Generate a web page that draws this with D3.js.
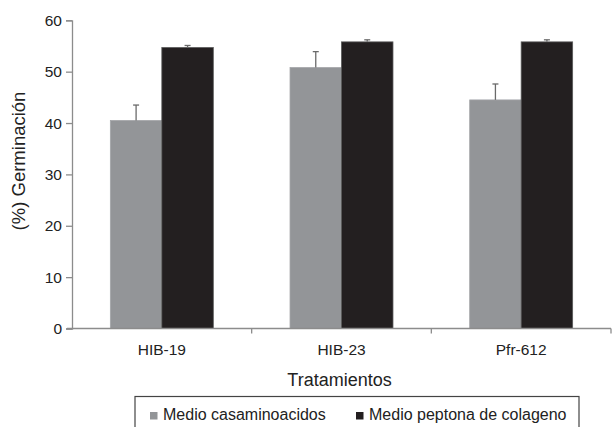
<!DOCTYPE html>
<html><head><meta charset="utf-8">
<script src="https://cdn.jsdelivr.net/npm/d3@7"></script>
<style>body{margin:0;background:#fff}svg{display:block;font-family:"Liberation Sans",Arial,sans-serif}</style>
</head><body>
<svg id="c" width="612" height="427"></svg>
<script>
const categories = ["HIB-19", "HIB-23", "Pfr-612"];
const seriesNames = ["Medio casaminoacidos", "Medio peptona de colageno"];
const casaminoacidos = [40.5, 50.8, 44.5];
const casaminoacidosErr = [3.0, 3.1, 3.1];
const peptona = [54.7, 55.8, 55.8];
const peptonaErr = [0.4, 0.4, 0.4];
const yTicks = [0, 10, 20, 30, 40, 50, 60];
const colors = ["#939598", "#231f20"];

const values = [casaminoacidos, peptona];
const errs = [casaminoacidosErr, peptonaErr];

const svg = d3.select("#c");
const mLeft = 72, mRight = 611, mTop = 20.3, mBottom = 328.5;

const x0 = d3.scaleBand().domain(categories).range([mLeft, mRight]).padding(0);
const x1 = d3.scaleBand().domain(seriesNames).range([0, x0.bandwidth()]).paddingInner(0).paddingOuter(0.745);
const y = d3.scaleLinear().domain([0, 60]).range([mBottom, mTop]);

const axisColor = "#8c8c8c";

// bars
seriesNames.forEach((s, si) => {
  const g = svg.append("g");
  g.selectAll("rect").data(categories).join("rect")
    .attr("x", c => x0(c) + x1(s))
    .attr("y", (c, i) => y(values[si][i]))
    .attr("width", x1.bandwidth())
    .attr("height", (c, i) => y(0) - y(values[si][i]))
    .attr("fill", colors[si])
    .attr("stroke", si === 0 ? "#a3a5a8" : "#5a5a5a")
    .attr("stroke-width", 0.8);
  const eg = svg.append("g").attr("stroke", "#6a6a6a").attr("stroke-width", 1.3);
  categories.forEach((c, i) => {
    const cx = x0(c) + x1(s) + x1.bandwidth() / 2;
    const ty = y(values[si][i] + errs[si][i]);
    eg.append("line").attr("x1", cx).attr("x2", cx).attr("y1", y(values[si][i])).attr("y2", ty);
    eg.append("line").attr("x1", cx - 3).attr("x2", cx + 3).attr("y1", ty).attr("y2", ty);
  });
});

// y axis
const yAxis = d3.axisLeft(y).tickValues(yTicks).tickSize(6).tickPadding(4).tickFormat(d3.format("d"));
const yg = svg.append("g").attr("transform", `translate(${mLeft},0)`).call(yAxis);
yg.select(".domain").attr("stroke", axisColor).attr("stroke-width", 1.3);
yg.selectAll(".tick line").attr("stroke", axisColor).attr("stroke-width", 1.3);
yg.selectAll(".tick text").attr("font-size", 15.5).attr("fill", "#222").attr("font-family", "Liberation Sans, Arial, sans-serif");

// x axis
const xg = svg.append("g").attr("transform", `translate(0,${mBottom})`);
xg.append("line").attr("x1", mLeft - 5).attr("x2", mRight).attr("y1", 0).attr("y2", 0)
  .attr("stroke", axisColor).attr("stroke-width", 1.3);
const boundaries = categories.map(c => x0(c) + x0.bandwidth());
xg.selectAll("line.tk").data(boundaries).join("line").attr("class", "tk")
  .attr("x1", d => d).attr("x2", d => d).attr("y1", 0).attr("y2", 5)
  .attr("stroke", axisColor).attr("stroke-width", 1.3);
xg.selectAll("text").data(categories).join("text")
  .attr("x", c => x0(c) + x0.bandwidth() / 2).attr("y", 26)
  .attr("text-anchor", "middle").attr("font-size", 15.5).attr("fill", "#222").text(c => c);

// axis titles
svg.append("text").attr("x", (mLeft + mRight) / 2 - 2).attr("y", 385.5).attr("text-anchor", "middle")
  .attr("font-size", 18).attr("fill", "#222").text("Tratamientos");
svg.append("text").attr("transform", "translate(25,161) rotate(-90)").attr("text-anchor", "middle")
  .attr("font-size", 18.5).attr("fill", "#222").text("(%) Germinación");

// legend
svg.append("rect").attr("x", 135).attr("y", 396.5).attr("width", 444).attr("height", 40)
  .attr("fill", "none").attr("stroke", "#444").attr("stroke-width", 1.2);
const legX = [150, 356];
seriesNames.forEach((s, i) => {
  svg.append("rect").attr("x", legX[i]).attr("y", 412).attr("width", 7.5).attr("height", 7.5).attr("fill", colors[i]);
  svg.append("text").attr("x", legX[i] + 13).attr("y", 420).attr("font-size", 16).attr("fill", "#222").text(s);
});
</script>
</body></html>
